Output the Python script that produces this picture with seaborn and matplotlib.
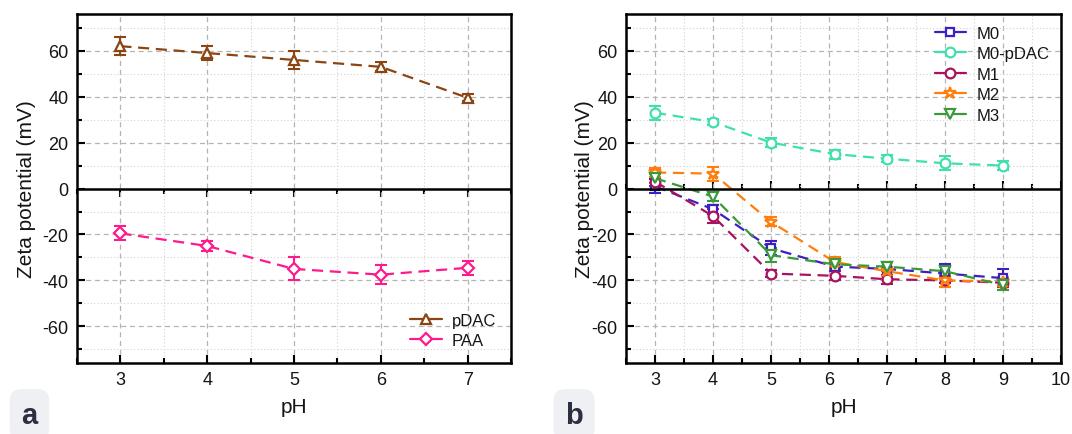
import numpy as np
import pandas as pd
import matplotlib
matplotlib.use('Agg')
import matplotlib.pyplot as plt
from matplotlib.ticker import MultipleLocator
import seaborn as sns

# panel a
ph_a = [3, 4, 5, 6, 7]
pdac = [62, 59, 56, 53, 39.5]
pdac_err = [4, 3, 4, 2, 1.5]
paa = [-19.5, -25, -35, -37.5, -34.5]
paa_err = [3, 2, 5, 4, 3]

# panel b
ph_b = [3, 4, 5, 6.1, 7, 8, 9]
m0 = [1, -9, -26, -34, -35, -37, -39]
m0_err = [3, 2, 3, 2, 3, 4, 4]
m0_pdac = [33, 29, 20, 15, 13, 11, 10]
m0_pdac_err = [3, 1.5, 2, 2, 1.5, 3, 2]
m1 = [3, -12, -37, -38, -39.5, -40, -41]
m1_err = [2, 3, 1.5, 2, 2, 3, 2]
m2 = [7, 6.5, -14.5, -32, -36, -40, -40.5]
m2_err = [2, 3, 2, 2, 2, 3, 2]
m3 = [4.5, -3.5, -29, -33, -34, -36, -42]
m3_err = [2, 2, 3, 2, 2, 2, 2]

sns.set_theme(style='ticks')
plt.rcParams['font.family'] = ['Liberation Sans', 'DejaVu Sans']
plt.rcParams['axes.unicode_minus'] = False

fig = plt.figure(figsize=(10.72, 4.35), dpi=100)
ax_a = fig.add_axes([0.0718, 0.163, 0.4049, 0.8025])
ax_b = fig.add_axes([0.584, 0.163, 0.4057, 0.8025])

TXT = '#151515'


def style_axes(ax, xmax, zero_dir):
    ax.set_xlim(2.5, xmax)
    ax.set_ylim(-76, 76)
    ax.xaxis.set_major_locator(MultipleLocator(1))
    ax.xaxis.set_minor_locator(MultipleLocator(0.5))
    ax.yaxis.set_major_locator(MultipleLocator(20))
    ax.yaxis.set_minor_locator(MultipleLocator(10))
    ax.grid(which='major', color='#b4b4b4', linestyle=(0, (4, 3)), linewidth=0.9)
    ax.grid(which='minor', color='#d2d2d2', linestyle=(0, (1, 2)), linewidth=0.8)
    ax.set_axisbelow(True)
    for s in ax.spines.values():
        s.set_visible(True)
        s.set_linewidth(1.8)
        s.set_color('black')
    ax.tick_params(which='both', direction='in', top=False, right=False,
                   labelsize=13, labelcolor=TXT, pad=6)
    ax.tick_params(which='major', length=6, width=1.5, color='black')
    ax.tick_params(which='minor', length=3.5, width=1.5, color='black')
    # x axis line at zero
    ax.axhline(0, color='black', linewidth=1.8, zorder=5)
    zero = ax.secondary_xaxis(0, transform=ax.transData)
    zero.xaxis.set_major_locator(MultipleLocator(1))
    zero.xaxis.set_minor_locator(MultipleLocator(0.5))
    zero.tick_params(which='both', direction=zero_dir, labelbottom=False, labeltop=False,
                     color='black', width=1.5)
    zero.tick_params(which='major', length=6)
    zero.tick_params(which='minor', length=3.5)
    for s in zero.spines.values():
        s.set_visible(False)


def draw(ax, x, y, err, color, marker, label, ms=7):
    df = pd.DataFrame({'pH': x, 'zeta': y})
    ax.errorbar(x, y, yerr=err, fmt='none', ecolor=color, elinewidth=1.5,
                capsize=4, capthick=1.5, zorder=3)
    sns.lineplot(data=df, x='pH', y='zeta', ax=ax, color=color, marker=marker,
                 markersize=ms, markerfacecolor='white', markeredgecolor=color,
                 markeredgewidth=1.6, linewidth=1.6, label=label, zorder=4)
    ax.lines[-1].set_linestyle((0, (5, 3)))


def finish(ax, loc, pad, ylab_x):
    leg = ax.legend(loc=loc, frameon=False, fontsize=12, handlelength=1.9,
                    handletextpad=0.6, labelspacing=0.33, borderaxespad=pad)
    for ln in leg.get_lines():
        ln.set_linestyle('-')
    for t in leg.get_texts():
        t.set_color(TXT)
    ax.set_xlabel('pH', fontsize=15, color=TXT, labelpad=6)
    ax.set_ylabel('Zeta potential (mV)', fontsize=15, color=TXT)
    ax.yaxis.set_label_coords(ylab_x, 0.5)


style_axes(ax_a, 7.5, 'out')
draw(ax_a, ph_a, pdac, pdac_err, '#8b4513', '^', 'pDAC')
draw(ax_a, ph_a, paa, paa_err, '#ff1a8c', 'D', 'PAA', ms=6)
finish(ax_a, 'lower right', 0.5, -0.094)

style_axes(ax_b, 10, 'in')
draw(ax_b, ph_b, m0, m0_err, '#3d1fc4', 's', 'M0', ms=6)
draw(ax_b, ph_b, m0_pdac, m0_pdac_err, '#3fe0ae', 'o', 'M0-pDAC')
draw(ax_b, ph_b, m1, m1_err, '#a8125e', 'o', 'M1')
draw(ax_b, ph_b, m2, m2_err, '#ff7f0e', '*', 'M2', ms=9)
draw(ax_b, ph_b, m3, m3_err, '#3a9a3a', 'v', 'M3')
finish(ax_b, 'upper right', 0.3, -0.074)

box = dict(boxstyle='round,pad=0.4', facecolor='#eef0f4', edgecolor='none')
fig.text(0.0275, 0.012, 'a', fontsize=21, fontweight='bold', color='#2b3040',
         ha='center', va='bottom', bbox=box)
fig.text(0.5355, 0.012, 'b', fontsize=21, fontweight='bold', color='#2b3040',
         ha='center', va='bottom', bbox=box)

fig.savefig('out.png', dpi=100)
